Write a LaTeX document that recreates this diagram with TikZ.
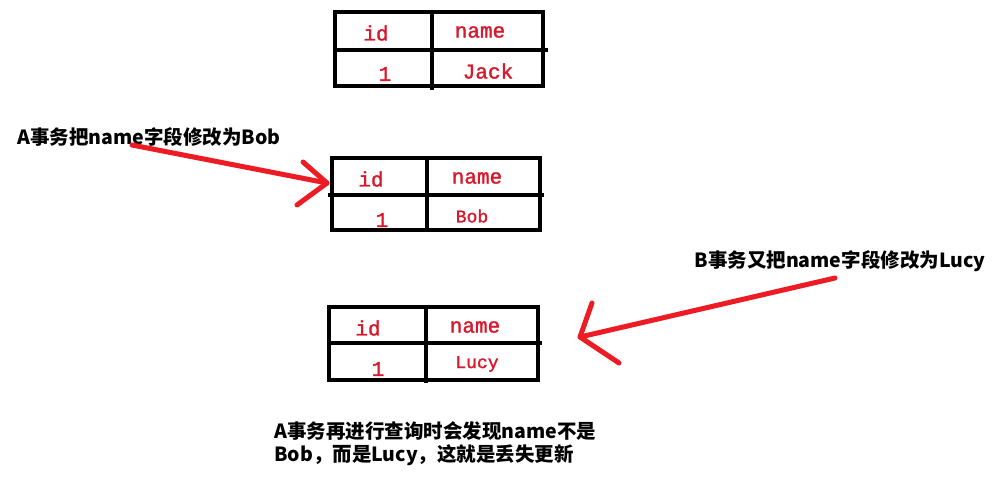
\documentclass[tikz,border=0pt]{standalone}
\usepackage{fontspec}
\newfontfamily\cjkfont{Noto Sans CJK SC}
\newfontfamily\cellfont[FakeBold=1.5]{Liberation Mono}
\definecolor{pred}{RGB}{237,28,36}
\definecolor{tred}{RGB}{215,25,45}
\begin{document}
\begin{tikzpicture}[x=1pt,y=-1pt,
  grid/.style={line width=4.5pt, black},
  hcell/.style={text=tred, inner sep=0pt, font=\cellfont\fontsize{21}{21}\selectfont},
  dcell/.style={text=tred, inner sep=0pt, font=\cellfont\fontsize{18}{18}\selectfont},
  lbl/.style={text=black, inner sep=0pt, font=\cjkfont\bfseries\fontsize{19.5}{22}\selectfont},
  redarrow/.style={draw=pred, line width=5pt, line cap=round, line join=round}]
\useasboundingbox[fill=white] (0,0) rectangle (998,479);

% table 1
\draw[grid] (335,12) rectangle (543,86);
\draw[grid] (333,50) -- (548,50);
\draw[grid] (432,12) -- (432,90);
\node[hcell] (t1id) at (376,33) {id};
\node[hcell] (t1name) at (480,32) {name};
\node[hcell] (t1one) at (385,74) {1};
\node[hcell] (t1val) at (488,71) {Jack};

% table 2
\draw[grid] (332,158) rectangle (540,230);
\draw[grid] (328,195) -- (544,195);
\draw[grid] (427,158) -- (427,232);
\node[hcell] (t2id) at (371,179) {id};
\node[hcell] (t2name) at (477,178) {name};
\node[hcell] (t2one) at (382,220) {1};
\node[dcell] (t2val) at (472,216) {Bob};

% table 3
\draw[grid] (329,307) rectangle (538,380);
\draw[grid] (327,343) -- (542,343);
\draw[grid] (426,307) -- (426,383);
\node[hcell] (t3id) at (368,328) {id};
\node[hcell] (t3name) at (475,327) {name};
\node[hcell] (t3one) at (378,369) {1};
\node[dcell] (t3val) at (477,364) {Lucy};

% labels
\node[lbl] (labA) at (149,137) {A事务把name字段修改为Bob};
\node[lbl] (labB) at (840,261) {B事务又把name字段修改为Lucy};
\node[lbl, anchor=west] (labC1) at (274,431) {A事务再进行查询时会发现name不是};
\node[lbl, anchor=west] (labC2) at (274,455) {Bob，而是Lucy，这就是丢失更新};

% arrow A
\coordinate (a1s) at (132,145);
\coordinate (a1t) at (327,183);
\coordinate (a1u) at (303,162);
\coordinate (a1l) at (297,205);
\draw[redarrow] (a1s) -- (a1t);
\draw[redarrow] (a1u) -- (a1t) -- (a1l);

% arrow B
\coordinate (a2s) at (835,278);
\coordinate (a2t) at (580,337);
\coordinate (a2u) at (592,303);
\coordinate (a2l) at (619,363);
\draw[redarrow] (a2s) -- (a2t);
\draw[redarrow] (a2u) -- (a2t) -- (a2l);
\end{tikzpicture}
\end{document}
